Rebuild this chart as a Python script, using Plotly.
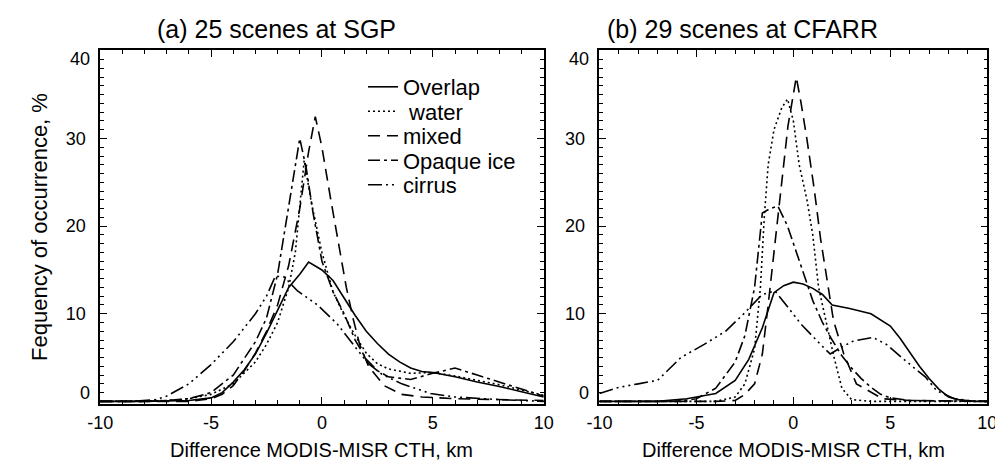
import plotly.graph_objects as go

# ---------------- data ----------------
# Panel (a): 25 scenes at SGP
a_overlap_x = [-10, -8, -6, -5, -4.5, -4, -3.5, -3, -2.5, -2, -1.5, -1, -0.6, 0, 0.5, 1, 1.5, 2, 2.5, 3, 3.5, 4, 4.5, 5, 6, 7, 8, 9, 10]
a_overlap_y = [0, 0, 0.1, 0.4, 1.0, 2.2, 3.6, 5.4, 7.8, 10.5, 13.0, 14.5, 15.9, 15.0, 13.8, 11.8, 9.8, 8.0, 6.6, 5.4, 4.5, 3.8, 3.4, 3.3, 2.8, 2.2, 1.7, 1.1, 0.5]

a_water_x = [-10, -7, -6, -5, -4, -3, -2.5, -2, -1.5, -1.2, -0.8, -0.5, 0, 0.5, 1, 1.5, 2, 2.5, 3, 4, 5, 6, 7, 8, 9, 10]
a_water_y = [0, 0.1, 0.3, 0.8, 2.0, 4.5, 6.5, 9.0, 13.0, 17.0, 27.5, 23.0, 17.0, 12.5, 9.8, 7.5, 5.5, 4.3, 3.7, 3.2, 3.3, 2.9, 2.4, 1.9, 1.3, 0.7]

a_mixed_x = [-10, -6, -5, -4.5, -4, -3.5, -3, -2.5, -2, -1.5, -1, -0.6, -0.3, 0, 0.4, 0.8, 1.1, 1.4, 1.7, 2.1, 2.8, 3.6, 4.5, 6, 8, 10]
a_mixed_y = [0, 0, 0.3, 0.8, 1.8, 3.5, 5.5, 8.0, 11.0, 15.5, 22.0, 28.5, 32.5, 29.0, 23.0, 17.5, 13.0, 9.5, 6.5, 4.0, 1.8, 0.8, 0.5, 0.3, 0.2, 0.1]

a_ice_x = [-10, -8, -7, -6, -5, -4, -3, -2.5, -2, -1.5, -1, -0.7, -0.4, 0, 0.5, 1, 1.5, 2, 2.5, 3, 4, 5, 6, 7, 8, 9, 10]
a_ice_y = [0, 0, 0.1, 0.3, 1.0, 3.0, 6.8, 9.5, 14.5, 22.0, 30.0, 26.5, 21.5, 16.0, 12.5, 10.0, 7.0, 4.8, 3.5, 2.8, 2.5, 3.2, 3.8, 3.0, 2.2, 1.4, 0.6]

a_cirrus_x = [-10, -8.5, -7.5, -7, -6, -5, -4, -3, -2.5, -2.1, -1.7, -1.1, -0.2, 0.7, 1.5, 2.1, 2.7, 3.6, 4.9, 6, 8, 10]
a_cirrus_y = [0, 0, 0.2, 0.6, 2.0, 4.2, 6.8, 10.0, 12.0, 14.3, 14.2, 12.6, 11.0, 8.8, 6.2, 4.3, 3.1, 2.0, 0.9, 0.5, 0.2, 0]

# Panel (b): 29 scenes at CFARR
b_overlap_x = [-10, -7, -5.5, -4, -3, -2.3, -1.6, -1, -0.5, 0, 0.5, 1, 1.5, 2, 2.9, 4, 5, 5.5, 6, 6.5, 7, 7.5, 8, 8.5, 9.3, 10]
b_overlap_y = [0, 0, 0.3, 0.9, 2.4, 4.8, 8.4, 12.4, 13.2, 13.6, 13.4, 12.9, 12.2, 11.0, 10.6, 10.0, 8.6, 7.2, 5.6, 4.0, 2.6, 1.4, 0.5, 0.2, 0, 0]

b_water_x = [-10, -4, -3, -2.5, -2, -1.7, -1.5, -1.3, -1, -0.6, -0.3, 0, 0.3, 0.7, 1.0, 1.3, 1.7, 2.1, 2.5, 3, 4, 10]
b_water_y = [0, 0, 0.5, 2.0, 6.0, 13.0, 21.0, 27.0, 31.0, 33.5, 34.5, 32.0, 27.0, 23.0, 19.0, 13.0, 9.0, 5.0, 1.5, 0.2, 0, 0]

b_mixed_x = [-10, -4, -3, -2.5, -2, -1.6, -1.3, -0.95, -0.6, -0.28, 0.15, 0.4, 0.7, 1.07, 1.4, 1.74, 2.07, 2.6, 3.25, 4.6, 6, 10]
b_mixed_y = [0, 0, 0.1, 0.8, 2.0, 5.4, 11.0, 17.8, 25.0, 31.4, 37.0, 34.0, 29.9, 24.3, 18.6, 13.7, 9.2, 5.4, 2.0, 0.3, 0.1, 0]

b_ice_x = [-10, -6, -5, -4, -3, -2.5, -2, -1.6, -1.2, -0.8, -0.3, 0.4, 1, 1.5, 2, 2.5, 3, 3.5, 4, 4.5, 5, 6, 10]
b_ice_y = [0, 0, 0.3, 1.5, 4.5, 7.5, 13.0, 21.5, 22.0, 22.3, 20.0, 15.5, 11.5, 9.0, 7.0, 5.2, 3.8, 2.6, 1.6, 0.8, 0.4, 0.1, 0]

b_cirrus_x = [-10, -9, -8, -7, -5.8, -4.6, -3.5, -2.6, -1.6, -0.95, -0.3, 0.4, 1.4, 1.9, 2.5, 3.1, 4.1, 4.8, 5.8, 6.8, 7.4, 8.3, 9, 10]
b_cirrus_y = [0.9, 1.6, 2.0, 2.4, 5.0, 6.5, 8.0, 9.9, 12.2, 12.6, 10.8, 8.8, 6.5, 5.4, 6.2, 6.9, 7.3, 6.5, 4.6, 2.8, 1.2, 0.3, 0.1, 0]

names = ["Overlap", "\u00a0water", "mixed", "Opaque ice", "cirrus"]
x_tickvals = [-10, -5, 0, 5, 10]
x_ticktext = ["-10", "-5", "0", "5", "10"]
y_tickvals = [0, 10, 20, 30, 40]
y_ticktext = ["0", "10", "20", "30", "40"]
titles = ["(a) 25 scenes at SGP", "(b) 29 scenes at CFARR"]
x_title = "Difference MODIS-MISR CTH, km"
y_title = "Fequency of occurrence, %"

# ---------------- styles ----------------
dashes = ["solid", "2px,3px", "12px,7px", "12px,4px,3px,4px", "14px,4px,2px,4px,2px,4px,2px,4px"]
W, H = 1003, 464
FONT = "Liberation Sans, Arial, Helvetica, sans-serif"
legend_ids = ["legend", "legend2", "legend3", "legend4", "legend5"]
legend_rows = [79, 103.5, 128, 152.5, 177]   # pixel rows of legend entries
TICKFONT = dict(family=FONT, size=18, color="black")
TITLEFONT = dict(family=FONT, size=20, color="black")

fig = go.Figure()
panel_a = [(a_overlap_x, a_overlap_y), (a_water_x, a_water_y), (a_mixed_x, a_mixed_y),
           (a_ice_x, a_ice_y), (a_cirrus_x, a_cirrus_y)]
panel_b = [(b_overlap_x, b_overlap_y), (b_water_x, b_water_y), (b_mixed_x, b_mixed_y),
           (b_ice_x, b_ice_y), (b_cirrus_x, b_cirrus_y)]

for i, (xs, ys) in enumerate(panel_a):
    fig.add_trace(go.Scatter(x=xs, y=ys, mode="lines", name=names[i],
                             line=dict(color="black", width=1.6, dash=dashes[i]),
                             xaxis="x", yaxis="y", showlegend=True, legend=legend_ids[i]))
for i, (xs, ys) in enumerate(panel_b):
    fig.add_trace(go.Scatter(x=xs, y=ys, mode="lines", name=names[i],
                             line=dict(color="black", width=1.6, dash=dashes[i]),
                             xaxis="x2", yaxis="y2", showlegend=False))

def px_x(p):
    return p / W

def px_y(p):
    return 1 - p / H

# inner labels (10, 20, 30) sit on their ticks; the end labels (0, 40) are nudged inward
axis_labels = ["" if v in (y_tickvals[0], y_tickvals[-1]) else t for v, t in zip(y_tickvals, y_ticktext)]

common_x = dict(range=[-10, 10], tickvals=x_tickvals, ticktext=x_ticktext,
                ticks="inside", ticklen=7, tickwidth=1.3, tickcolor="black",
                minor=dict(dtick=1, ticks="inside", ticklen=4, tickwidth=1.1, tickcolor="black"),
                showline=True, linecolor="black", linewidth=1.6, mirror="allticks",
                showgrid=False, zeroline=False, ticklabelstandoff=2,
                tickfont=TICKFONT)
common_y = dict(range=[-0.3, 40.1], tickvals=y_tickvals, ticktext=axis_labels,
                ticks="inside", ticklen=7, tickwidth=1.3, tickcolor="black",
                minor=dict(dtick=1, ticks="inside", ticklen=4, tickwidth=1.1, tickcolor="black"),
                showline=True, linecolor="black", linewidth=1.6, mirror="allticks",
                showgrid=False, zeroline=False, ticklabelstandoff=9,
                tickfont=TICKFONT,
                domain=[px_y(396), px_y(42)])

legend_common = dict(xanchor="left", yanchor="middle", bgcolor="rgba(0,0,0,0)",
                     borderwidth=0, font=dict(family=FONT, size=22, color="black"))
legends = {}
for i, lid in enumerate(legend_ids):
    legends[lid] = dict(legend_common, x=px_x(350), y=px_y(legend_rows[i]))

annotations = [
    dict(text=titles[0], xref="paper", yref="paper", x=px_x(137), y=px_y(21),
         xanchor="left", yanchor="middle", showarrow=False,
         font=dict(family=FONT, size=25, color="black")),
    dict(text=titles[1], xref="paper", yref="paper", x=px_x(598), y=px_y(21),
         xanchor="left", yanchor="middle", showarrow=False,
         font=dict(family=FONT, size=25, color="black")),
]
for xr, yr in (("x domain", "y"), ("x2 domain", "y2")):
    annotations.append(dict(text=y_ticktext[0], xref=xr, yref=yr, x=0, y=y_tickvals[0],
                            xanchor="right", yanchor="middle", xshift=-8, yshift=8,
                            showarrow=False, font=TICKFONT))
    annotations.append(dict(text=y_ticktext[-1], xref=xr, yref=yr, x=0, y=y_tickvals[-1],
                            xanchor="right", yanchor="middle", xshift=-8, yshift=-8,
                            showarrow=False, font=TICKFONT))
    # x-axis title, centred under each panel
    annotations.append(dict(text=x_title, xref=xr, yref="paper", x=0.5, y=px_y(442),
                            xanchor="center", yanchor="middle", showarrow=False,
                            font=TITLEFONT))

fig.update_layout(
    width=W, height=H, margin=dict(l=0, r=0, t=0, b=0),
    paper_bgcolor="white", plot_bgcolor="white",
    font=dict(family=FONT, color="black"),
    xaxis=dict(common_x, domain=[px_x(81), px_x(535)], anchor="y"),
    yaxis=dict(common_y, anchor="x",
               title=dict(text=y_title, font=dict(family=FONT, size=22, color="black"), standoff=12)),
    xaxis2=dict(common_x, domain=[px_x(592), px_x(989)], anchor="y2"),
    yaxis2=dict(common_y, anchor="x2"),
    annotations=annotations,
    **legends,
)

fig.write_html("out.html")
